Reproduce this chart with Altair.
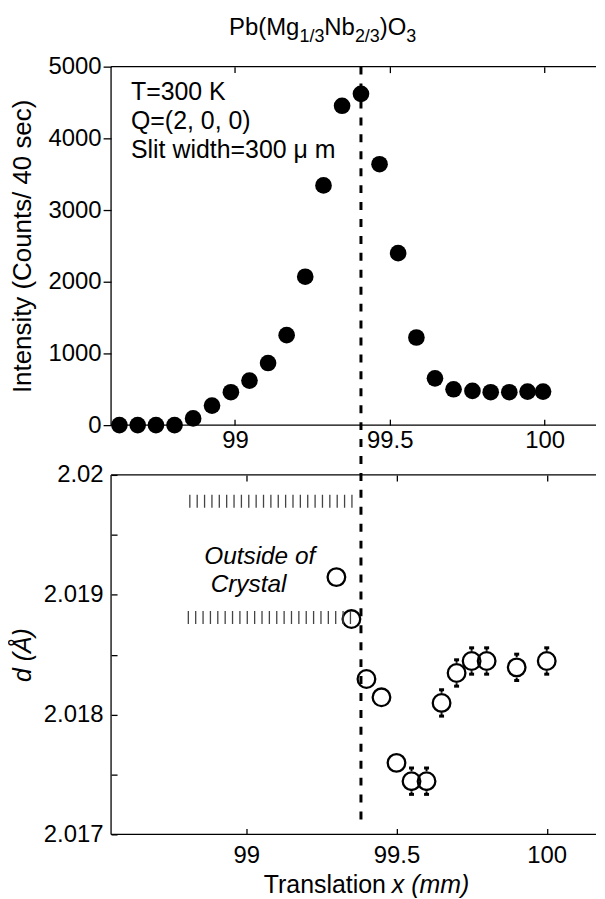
import altair as alt
import pandas as pd

FONT = "Liberation Sans"

# ---------------- data ----------------
top_x = [98.627, 98.686, 98.745, 98.805, 98.865, 98.926, 98.987, 99.047, 99.107,
         99.167, 99.227, 99.286, 99.346, 99.407, 99.467, 99.527, 99.586, 99.646,
         99.706, 99.767, 99.826, 99.886, 99.945, 99.995]
top_counts = [0, 0, 0, 0, 93, 273, 459, 621, 866, 1255, 2070, 3343, 4454, 4621,
              3639, 2399, 1222, 653, 500, 477, 459, 459, 468, 468]

bot_x = [99.30, 99.35, 99.40, 99.45, 99.50, 99.55, 99.60, 99.65, 99.70, 99.75,
         99.80, 99.90, 100.00]
bot_d = [2.019147, 2.018797, 2.018297, 2.018144, 2.017597, 2.017444, 2.017444,
         2.018097, 2.018347, 2.018447, 2.018447, 2.018394, 2.018447]
bot_err = [0.00005, 0.00005, 0.00005, 0.00005, 0.00005, 0.00011, 0.00011,
           0.00011, 0.00011, 0.00011, 0.00011, 0.00011, 0.00011]

edge_x = [99.407]                 # dashed crystal-edge line (top-panel scale)
hatch_y = [2.01978, 2.01881]
hatch_x1 = [98.81, 98.805]
hatch_x2 = [99.355, 99.35]

x_ticks = [99, 99.5, 100]
top_y_ticks = [0, 1000, 2000, 3000, 4000, 5000]
bot_y_ticks = [2.017, 2.0175, 2.018, 2.0185, 2.019, 2.0195, 2.02]

title_parts = ["Pb(Mg", "1/3", "Nb", "2/3", ")O", "3"]
info_lines = ["T=300 K", "Q=(2, 0, 0)", "Slit width=300 \u03bc m"]
outside_lines = ["Outside of", "Crystal"]
xtitle_parts = ["Translation", "x (mm)"]

# ---------------- layout ----------------
W = 487
H_TOP = 360
H_BOT = 361
GAP = 50
FS = 24
FT = 25

xs_top = alt.Scale(domain=[98.6, 100.166], nice=False, zero=False)
ys_top = alt.Scale(domain=[0, 5000], nice=False, zero=False)
xs_bot = alt.Scale(domain=[98.55, 100.164], nice=False, zero=False)
ys_bot = alt.Scale(domain=[2.017, 2.02], nice=False, zero=False)

one = pd.DataFrame({"k": [0]})


def x_axis_bottom(pad):
    return alt.Axis(orient="bottom", values=x_ticks, offset=-6, tickSize=6,
                    domain=False, labelPadding=pad, format="~g", title=None,
                    grid=False, labelFlush=False, labelOverlap=False)


def x_axis_top():
    return alt.Axis(orient="top", values=x_ticks, offset=-6, tickSize=6,
                    domain=False, labels=False, title=None, grid=False)


def y_axis_top():
    return alt.Axis(values=top_y_ticks, tickSize=8, domain=False, format="d",
                    labelPadding=2, title="Intensity (Counts/ 40 sec)",
                    titleFontSize=26, titlePadding=13, grid=False, labelFlush=False)


def y_axis_bot():
    return alt.Axis(values=bot_y_ticks, orient="left", offset=-6, tickSize=6,
                    domain=False, labelPadding=8, grid=False, labelFlush=False,
                    labelExpr="abs(datum.value*1000 - round(datum.value*1000)) < 0.01 ? format(datum.value, '.4~r') : ''",
                    title="d (\u00c5)", titleFontStyle="italic", titleFontSize=FT,
                    titlePadding=8)


def text_layer(txt, x, y, size=FS, style="normal", align="left", baseline="alphabetic"):
    return alt.Chart(pd.DataFrame({"t": [txt]})).mark_text(
        font=FONT, fontSize=size, fontStyle=style, align=align,
        baseline=baseline, color="black"
    ).encode(text="t:N", x=alt.value(x), y=alt.value(y))


def frame_layers(w, h):
    base = alt.Chart(one).mark_rule(color="black", strokeWidth=1.3)
    return [
        base.encode(x=alt.value(0), y=alt.value(0), y2=alt.value(h)),
        base.encode(x=alt.value(0), x2=alt.value(w), y=alt.value(0)),
        base.encode(x=alt.value(0), x2=alt.value(w), y=alt.value(h)),
    ]


# ---------------- top panel ----------------
top_df = pd.DataFrame({"x": top_x, "I": top_counts})

top_points = alt.Chart(top_df).mark_circle(size=280, color="black", opacity=1).encode(
    x=alt.X("x:Q", scale=xs_top, axis=x_axis_bottom(3)),
    y=alt.Y("I:Q", scale=ys_top, axis=y_axis_top()),
)

edge_line = alt.Chart(pd.DataFrame({"x": edge_x})).mark_rule(
    color="black", strokeWidth=3, strokeDash=[8, 9]
).encode(
    x=alt.X("x:Q", scale=xs_top, axis=x_axis_top()),
    y=alt.value(0),
    y2=alt.value(H_TOP + GAP + 353),
)

top_layers = [top_points, edge_line] + frame_layers(W, H_TOP)

# title with sub-scripts
sub_fs = 18
widths = [2.945 * FS, 1.39 * sub_fs, 1.278 * FS, 1.39 * sub_fs, 1.111 * FS, 0.556 * sub_fs]
cx = 118.5
for i, part in enumerate(title_parts):
    is_sub = i % 2 == 1
    top_layers.append(text_layer(part, cx, -25 if is_sub else -32,
                                 size=sub_fs if is_sub else FS))
    cx += widths[i]

for i, line in enumerate(info_lines):
    top_layers.append(text_layer(line, 20, 33.5 + 29 * i, size=FT))

top = alt.layer(*top_layers).properties(width=W, height=H_TOP).resolve_axis(x="independent")

# ---------------- bottom panel ----------------
bot_df = pd.DataFrame({"x": bot_x, "d": bot_d, "err": bot_err})
R = 0.000085  # marker radius in data units (bars drawn outside the open circle)

circles = alt.Chart(bot_df).mark_point(
    shape="circle", filled=False, size=313, strokeWidth=2.3, color="black", opacity=1
).encode(
    x=alt.X("x:Q", scale=xs_bot, axis=x_axis_bottom(9)),
    y=alt.Y("d:Q", scale=ys_bot, axis=y_axis_bot()),
)

hatch = alt.Chart(pd.DataFrame({"y": hatch_y, "x1": hatch_x1, "x2": hatch_x2})).mark_rule(
    color="#444", strokeWidth=13, strokeDash=[1.3, 6.1], strokeCap="butt"
).encode(
    x=alt.X("x1:Q", scale=xs_bot, axis=x_axis_top()),
    x2="x2:Q",
    y=alt.Y("y:Q", scale=ys_bot, axis=y_axis_bot()),
)

eb = alt.Chart(bot_df).transform_filter(f"datum.err > {R}")
xenc = alt.X("x:Q", scale=xs_bot, axis=None)

up = eb.transform_calculate(a=f"datum.d + {R}", b="datum.d + datum.err").mark_rule(
    color="black", strokeWidth=2).encode(x=xenc, y=alt.Y("a:Q", scale=ys_bot, axis=y_axis_bot()), y2="b:Q")
lo = eb.transform_calculate(a=f"datum.d - {R}", b="datum.d - datum.err").mark_rule(
    color="black", strokeWidth=2).encode(x=xenc, y=alt.Y("a:Q", scale=ys_bot, axis=y_axis_bot()), y2="b:Q")
cap_hi = eb.transform_calculate(b="datum.d + datum.err").mark_tick(
    orient="horizontal", size=5, thickness=3, color="black", opacity=1).encode(
    x=xenc, y=alt.Y("b:Q", scale=ys_bot, axis=y_axis_bot()))
cap_lo = eb.transform_calculate(b="datum.d - datum.err").mark_tick(
    orient="horizontal", size=5, thickness=3, color="black", opacity=1).encode(
    x=xenc, y=alt.Y("b:Q", scale=ys_bot, axis=y_axis_bot()))

bot_layers = [circles, hatch, up, lo, cap_hi, cap_lo] + frame_layers(W, H_BOT)
bot_layers.append(text_layer(outside_lines[0], 93.5, 89, size=24.5, style="italic"))
bot_layers.append(text_layer(outside_lines[1], 100, 117.7, size=24.5, style="italic"))
bot_layers.append(text_layer(xtitle_parts[0], 276, H_BOT + 59, size=FT, align="right"))
bot_layers.append(text_layer(xtitle_parts[1], 282, H_BOT + 59, size=FT, style="italic"))

bottom = alt.layer(*bot_layers).properties(width=W, height=H_BOT).resolve_axis(x="independent")

chart = alt.vconcat(
    top, bottom, spacing=GAP, bounds="flush",
    padding={"left": 0.5, "top": 6, "right": 0, "bottom": 0},
    background="white",
).configure_view(
    stroke="transparent", strokeWidth=0
).configure_axis(
    labelFont=FONT, titleFont=FONT, labelFontSize=FS, titleFontSize=FT,
    labelColor="black", titleColor="black", tickColor="black", tickWidth=1.3,
    titleFontWeight="normal",
)

chart.save("out.html", embed_options={"renderer": "svg", "actions": False})
